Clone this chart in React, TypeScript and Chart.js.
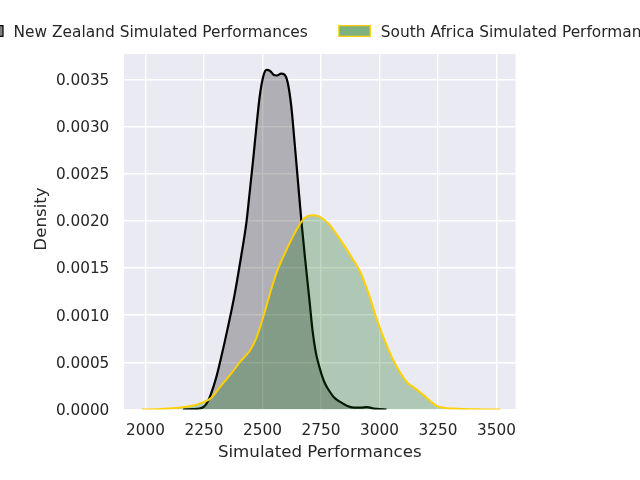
import React, { useEffect, useRef } from "react";
import { Chart, registerables } from "chart.js";

Chart.register(...registerables);

// ---- data ----
const seriesLabels = [
  "New Zealand Simulated Performances",
  "South Africa Simulated Performances",
];

const nzX = [
  2160, 2200, 2230, 2250, 2265, 2279, 2301, 2322, 2351, 2380, 2409, 2431, 2445,
  2460, 2474, 2488, 2503, 2517, 2532, 2546, 2561, 2579, 2594, 2608, 2623, 2637,
  2652, 2666, 2681, 2700, 2714, 2728, 2742, 2754, 2768, 2782, 2805, 2832, 2860,
  2889, 2920, 2946, 2975, 3000, 3030,
];
const nzY = [
  0, 0.000003, 0.00001, 0.00003, 0.00008, 0.00016, 0.00033, 0.00054, 0.00086,
  0.00121, 0.00163, 0.00198, 0.0023, 0.00265, 0.003, 0.00332, 0.00353, 0.0036,
  0.00359, 0.00355, 0.00354, 0.00356, 0.00355, 0.00346, 0.00321, 0.00283,
  0.0024, 0.002, 0.00162, 0.00117, 0.00083, 0.0006, 0.00046, 0.00036, 0.00027,
  0.00021, 0.00013, 0.00008, 0.00004, 0.00002, 0.00002, 0.000025, 0.00001,
  0.000003, 0,
];

const saX = [
  1984, 2050, 2105, 2148, 2200, 2240, 2279, 2322, 2366, 2409, 2445, 2474, 2503,
  2532, 2560, 2600, 2640, 2676, 2711, 2739, 2782, 2832, 2889, 2917, 2953, 2989,
  3032, 3074, 3117, 3160, 3203, 3252, 3317, 3400, 3516,
];
const saY = [
  0, 0.000003, 0.00001, 0.00002, 0.00004, 0.00007, 0.00012, 0.00025, 0.00038,
  0.00052, 0.00062, 0.00076, 0.00098, 0.00123, 0.00145, 0.00168, 0.00188,
  0.00202, 0.00206, 0.00205, 0.00197, 0.0018, 0.00158, 0.00146, 0.00123,
  0.00095, 0.00067, 0.00045, 0.00029, 0.00021, 0.00012, 0.00003, 0.00001,
  0.000002, 0,
];

const xTicks = [2000, 2250, 2500, 2750, 3000, 3250, 3500];
const yTicks = [0, 0.0005, 0.001, 0.0015, 0.002, 0.0025, 0.003, 0.0035];
const xTitle = "Simulated Performances";
const yTitle = "Density";

// ---- styles ----
const FONT = "'DejaVu Sans', sans-serif";
const TEXT = "#262626";
const PLOT_BG = "#EAEAF2";
const lineColors = ["#000000", "#FFD000"];
const fillColors = ["rgba(0,0,0,0.25)", "rgba(0,100,0,0.25)"];
const legendFills = ["rgba(0,0,0,0.5)", "rgba(0,100,0,0.5)"];

const bgPlugin = {
  id: "plotBackground",
  beforeDraw(chart: any) {
    const { ctx, chartArea } = chart;
    ctx.save();
    ctx.fillStyle = PLOT_BG;
    ctx.fillRect(chartArea.left, chartArea.top, chartArea.width, chartArea.height);
    ctx.restore();
  },
};

const legendAndTitlePlugin = {
  id: "legendAndTitle",
  afterDraw(chart: any) {
    const { ctx } = chart;
    ctx.save();
    // legend: one row, wider than the canvas as in the reference
    const fontSize = 15.4;
    ctx.font = `${fontSize}px ${FONT}`;
    ctx.textBaseline = "middle";
    ctx.textAlign = "left";
    const boxW = 31.4;
    const boxH = 10.7;
    const gap = 10.6;
    const colGap = 31;
    const yMid = 31;
    let x = -28.4;
    chart.data.datasets.forEach((ds: any, i: number) => {
      ctx.fillStyle = "#ffffff";
      ctx.fillRect(x, yMid - boxH / 2, boxW, boxH);
      ctx.fillStyle = legendFills[i];
      ctx.fillRect(x, yMid - boxH / 2, boxW, boxH);
      ctx.strokeStyle = lineColors[i];
      ctx.lineWidth = 1.2;
      ctx.strokeRect(x, yMid - boxH / 2, boxW, boxH);
      x += boxW + gap;
      ctx.fillStyle = TEXT;
      ctx.fillText(ds.label, x, yMid + 1.5);
      x += ctx.measureText(ds.label).width + colGap;
    });
    // y axis title
    ctx.translate(42, 219);
    ctx.rotate(-Math.PI / 2);
    ctx.textAlign = "center";
    ctx.textBaseline = "middle";
    ctx.font = `16.67px ${FONT}`;
    ctx.fillStyle = TEXT;
    ctx.fillText(yTitle, 0, 0);
    ctx.restore();
  },
};

export default function App() {
  const ref = useRef<HTMLCanvasElement>(null);

  useEffect(() => {
    if (!ref.current) return;
    const tickFont = { family: FONT, size: 15.28 };
    const chart = new Chart(ref.current, {
      type: "line",
      data: {
        datasets: [
          {
            label: seriesLabels[0],
            data: nzX.map((x, i) => ({ x, y: nzY[i] })),
            borderColor: lineColors[0],
            backgroundColor: fillColors[0],
            borderWidth: 2.2,
            fill: "origin",
            cubicInterpolationMode: "monotone",
            pointRadius: 0,
            order: 1,
          },
          {
            label: seriesLabels[1],
            data: saX.map((x, i) => ({ x, y: saY[i] })),
            borderColor: lineColors[1],
            backgroundColor: fillColors[1],
            borderWidth: 2,
            fill: "origin",
            cubicInterpolationMode: "monotone",
            pointRadius: 0,
            order: 0,
          },
        ],
      },
      options: {
        animation: false,
        responsive: false,
        devicePixelRatio: 1,
        layout: { padding: { top: 54, right: 124.5, bottom: 14, left: 0 } },
        plugins: {
          legend: { display: false },
          tooltip: { enabled: false },
        },
        scales: {
          x: {
            type: "linear",
            min: 1908,
            max: 3581,
            border: { display: false },
            grid: { color: "#ffffff", lineWidth: 1.4, drawTicks: false },
            ticks: {
              font: tickFont,
              color: TEXT,
              padding: 12.3,
              maxRotation: 0,
              autoSkip: false,
              callback: (v: any) => String(v),
            },
            afterBuildTicks: (s: any) => {
              s.ticks = xTicks.map((v) => ({ value: v }));
            },
            afterFit: (s: any) => {
              s.height = 56.5;
            },
            title: {
              display: true,
              text: xTitle,
              color: TEXT,
              font: { family: FONT, size: 16.67, lineHeight: 1.2 },
              padding: { top: 4, bottom: 3 },
            },
          },
          y: {
            type: "linear",
            min: 0,
            max: 0.003768,
            border: { display: false },
            grid: { color: "#ffffff", lineWidth: 1.4, drawTicks: false },
            ticks: {
              font: tickFont,
              color: TEXT,
              padding: 14.7,
              labelOffset: 1.5,
              autoSkip: false,
              callback: (v: any) => Number(v).toFixed(4),
            },
            afterBuildTicks: (s: any) => {
              s.ticks = yTicks.map((v) => ({ value: v }));
            },
            afterFit: (s: any) => {
              s.width = 124;
            },
          },
        },
      } as any,
      plugins: [bgPlugin, legendAndTitlePlugin],
    });
    return () => chart.destroy();
  }, []);

  return (
    <div
      style={{
        position: "absolute",
        left: 0,
        top: 0,
        width: 640,
        height: 480,
        background: "#ffffff",
        overflow: "hidden",
      }}
    >
      <canvas
        ref={ref}
        width={640}
        height={480}
        style={{ display: "block", width: 640, height: 480 }}
      />
    </div>
  );
}
